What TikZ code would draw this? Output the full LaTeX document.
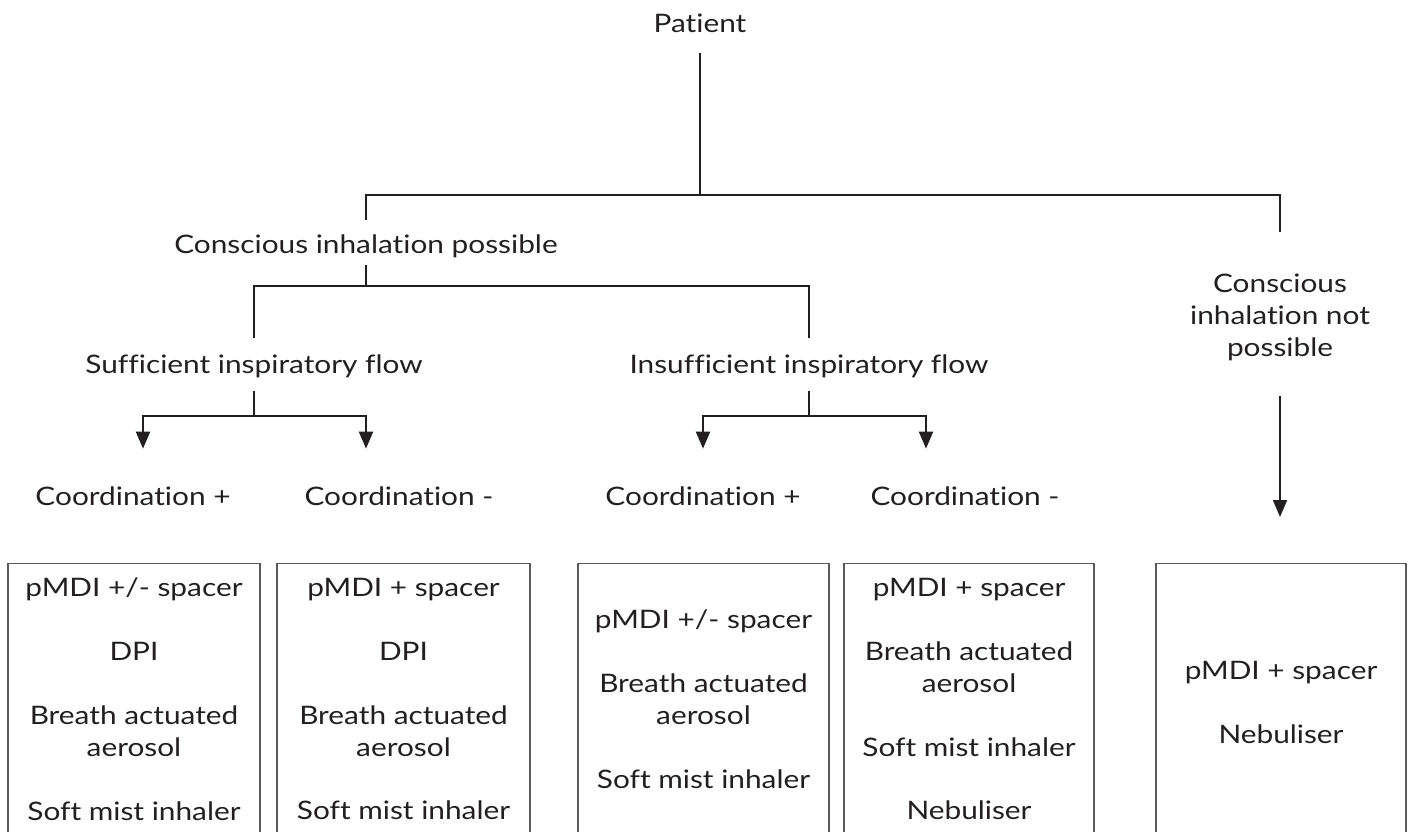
\documentclass[tikz,border=0pt]{standalone}
\usepackage{fontspec}
\setmainfont{Lato}[Ligatures={NoCommon,NoRequired,NoContextual}, FakeStretch=1.17]
\usetikzlibrary{arrows.meta,calc}
\definecolor{ink}{HTML}{231F20}
\definecolor{boxc}{HTML}{58595B}
\begin{document}
\begin{tikzpicture}[x=0.02cm,y=-0.02cm,
  every node/.style={font=\fontsize{14.5}{18.2}\selectfont, text=ink},
  lbl/.style={inner sep=0pt, text height=0.37cm, text depth=0pt, anchor=base},
  conn/.style={draw=ink, line width=1.1pt},
  arr/.style={conn, -{Triangle[width=0.28cm,length=0.34cm]}},
  devbox/.style={draw=boxc, line width=0.8pt, minimum width=#1*0.02cm, minimum height=5.9cm, anchor=north, inner sep=0pt},
  devtext/.style={inner sep=0pt, align=center}
]
\useasboundingbox (0,0) rectangle (1408,831);

% labels
\node[lbl] (patient) at (700,33) {Patient};
\node[lbl] (cip) at (366,253) {Conscious inhalation possible};
\node[inner sep=0pt, align=center, anchor=north] (cnp) at (1280,274) {Conscious\\inhalation not\\possible};
\node[lbl] (suf) at (254,373) {Sufficient inspiratory flow};
\node[lbl] (ins) at (809,373) {Insufficient inspiratory flow};
\node[lbl] (c1) at (133,505) {Coordination +};
\node[lbl] (c2) at (399,505) {Coordination -};
\node[lbl] (c3) at (703,505) {Coordination +};
\node[lbl] (c4) at (965,505) {Coordination -};

% boxes
\node[devbox=252] (b1) at (134,563) {};
\node[devbox=253] (b2) at (403.5,563) {};
\node[devbox=251] (b3) at (703.5,563) {};
\node[devbox=250] (b4) at (969,563) {};
\node[devbox=250] (b5) at (1281,563) {};

\node[devtext] (t1) at (134,699) {pMDI +/- spacer\\[18.2pt]DPI\\[18.2pt]Breath actuated\\aerosol\\[18.2pt]Soft mist inhaler};
\node[devtext] (t2) at (403.5,699) {pMDI + spacer\\[18.2pt]DPI\\[18.2pt]Breath actuated\\aerosol\\[18.2pt]Soft mist inhaler};
\node[devtext] (t3) at (703.5,699) {pMDI +/- spacer\\[18.2pt]Breath actuated\\aerosol\\[18.2pt]Soft mist inhaler};
\node[devtext] (t4) at (969,699) {pMDI + spacer\\[18.2pt]Breath actuated\\aerosol\\[18.2pt]Soft mist inhaler\\[18.2pt]Nebuliser};
\node[devtext] (t5) at (1281,702) {pMDI + spacer\\[18.2pt]Nebuliser};

% junctions
\coordinate (jt) at (700,195);
\coordinate (jtl) at (366,195);
\coordinate (jtr) at (1280,195);
\coordinate (j2) at (366,286);
\coordinate (j2l) at (254,286);
\coordinate (j2r) at (809,286);
\coordinate (j3) at (254,416);
\coordinate (j3l) at (143,416);
\coordinate (j3r) at (366,416);
\coordinate (j4) at (809,416);
\coordinate (j4l) at (703,416);
\coordinate (j4r) at (926,416);

% connectors
\draw[conn, shorten <=0.4cm] (patient.south) -- (jt);
\draw[conn, shorten <=0.29cm, shorten >=0.84cm] (cip.north) -- (jtl) -- (jtr) -- (cnp.north);
\draw[conn, shorten <=0.24cm] (cip.south) -- (j2);
\draw[conn, shorten <=0.33cm, shorten >=0.33cm] (suf.north) -- (j2l) -- (j2r) -- (ins.north);
\draw[conn, shorten <=0.36cm] (suf.south) -- (j3);
\draw[conn, shorten <=0.36cm] (ins.south) -- (j4);
\draw[arr, shorten >=0.75cm] (j3) -- (j3l) -- (j3l |- c1.north);
\draw[arr, shorten >=0.75cm] (j3) -- (j3r) -- (j3r |- c2.north);
\draw[arr, shorten >=0.75cm] (j4) -- (j4l) -- (j4l |- c3.north);
\draw[arr, shorten >=0.75cm] (j4) -- (j4r) -- (j4r |- c4.north);
\draw[arr, shorten <=0.69cm, shorten >=0.92cm] (cnp.south) -- (cnp.south |- b5.north);
\end{tikzpicture}
\end{document}
